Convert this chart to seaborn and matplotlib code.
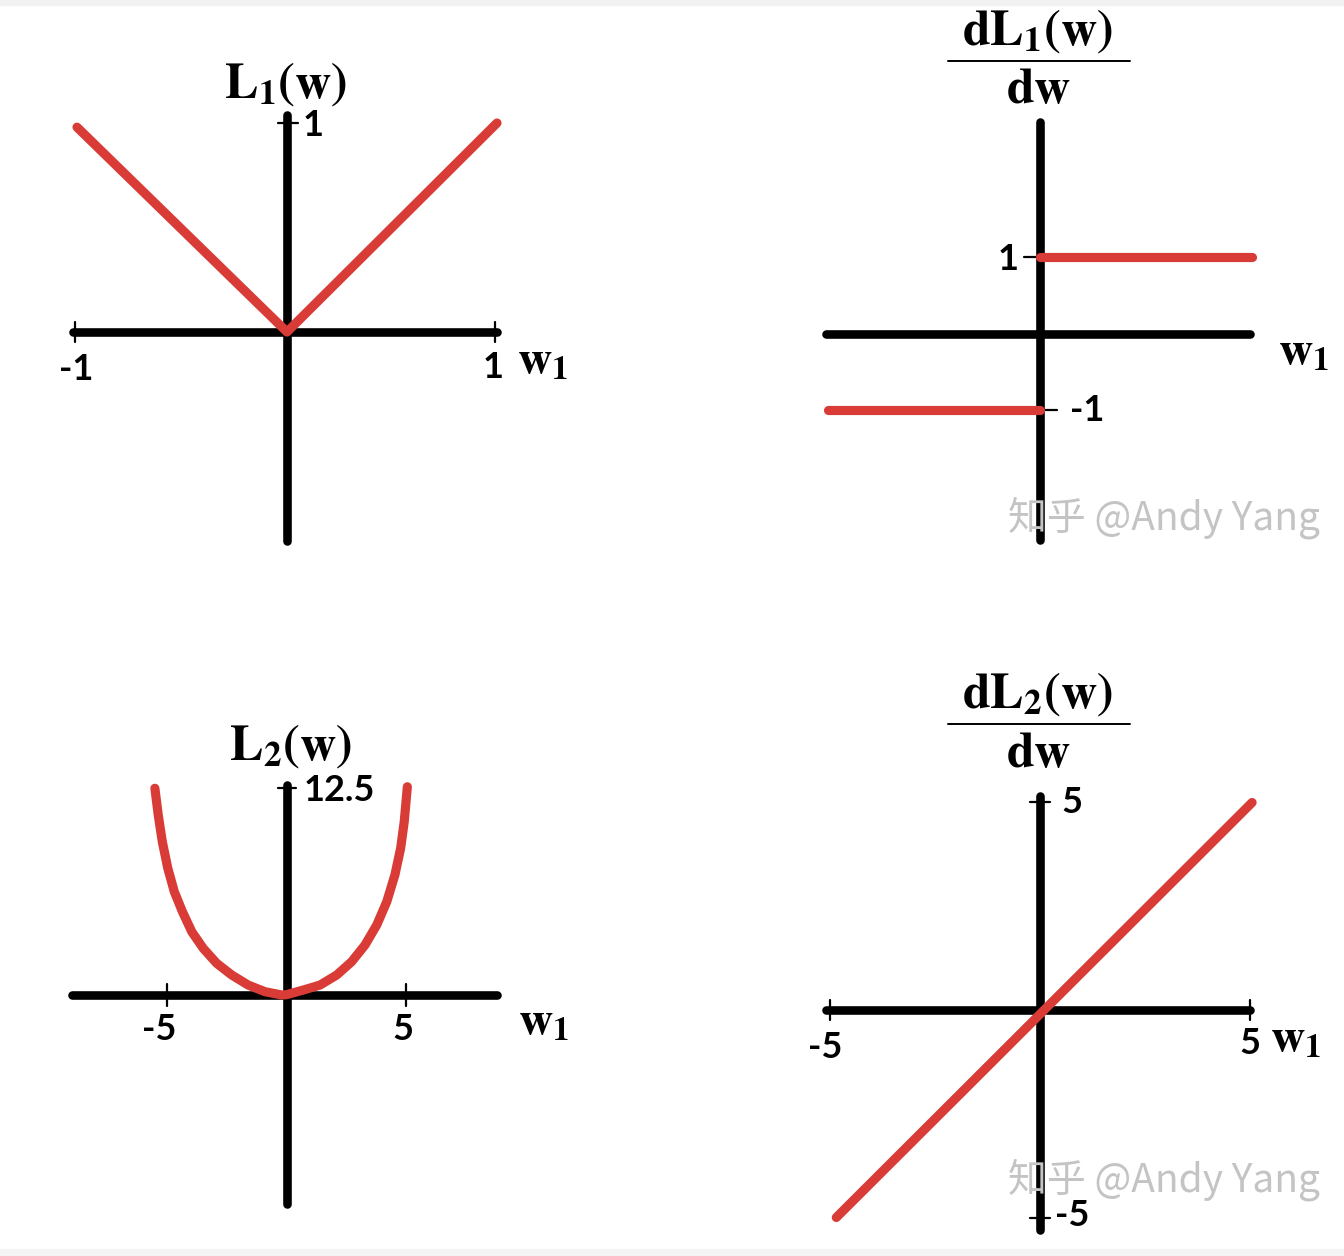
import matplotlib
matplotlib.use("Agg")
import matplotlib.pyplot as plt
import seaborn as sns
from matplotlib.lines import Line2D
from matplotlib.patches import Rectangle

W, H = 1344, 1256
RED = "#d93b36"

# L1(w): |w|
l1_x = [-1.0, 0.0, 1.0]
l1_y = [0.98, 0.0, 1.0]
l1_axis_x = [-1.02, 1.0]
l1_axis_y = [-1.0, 1.04]

# dL1/dw: sign(w)
dl1_neg_x = [-1.0, 0.0]
dl1_neg_y = [-1.0, -1.0]
dl1_pos_x = [0.0, 1.0]
dl1_pos_y = [1.0, 1.0]
dl1_axis_x = [-1.01, 0.99]
dl1_axis_y = [-2.7, 2.76]

# L2(w): w^2 / 2
l2_x = [-5.50, -5.36, -5.19, -4.96, -4.69, -4.35, -3.96, -3.48, -2.92, -2.29,
        -1.60, -0.90, -0.20, 0.0, 0.70, 1.40, 2.10, 2.72, 3.28, 3.77,
        4.19, 4.53, 4.77, 4.92, 5.05]
l2_y = [12.50, 10.88, 9.27, 7.66, 6.25, 5.04, 3.83, 2.82, 1.92, 1.21,
        0.60, 0.20, 0.0, 0.02, 0.30, 0.60, 1.21, 2.01, 3.02, 4.23,
        5.64, 7.26, 8.87, 10.48, 12.59]
l2_axis_x = [-8.95, 8.8]
l2_axis_y = [-12.65, 12.7]

# dL2/dw: w
dl2_x = [-4.85, 5.05]
dl2_y = [-5.0, 5.0]
dl2_axis_x = [-5.1, 5.0]
dl2_axis_y = [-5.3, 5.15]


def px(x, y):
    return x / W, 1 - y / H


def panel_axes(fig, origin, scale, box):
    l, t, r, b = box
    ax = fig.add_axes([l / W, 1 - b / H, (r - l) / W, (b - t) / H])
    ox, oy = origin
    sx, sy = scale
    ax.set_xlim((l - ox) / sx, (r - ox) / sx)
    ax.set_ylim((oy - b) / sy, (oy - t) / sy)
    ax.set_axis_off()
    return ax


def draw_axes(ax, xs, ys):
    ax.plot(xs, [0, 0], color="black", lw=6.2, solid_capstyle="round", clip_on=False, zorder=2)
    ax.plot([0, 0], ys, color="black", lw=6.2, solid_capstyle="round", clip_on=False, zorder=2)


def vtick(ax, x, half):
    ax.plot([x, x], [-half, half], color="black", lw=1.6, clip_on=False, zorder=2)


def htick(ax, y, x0, x1):
    ax.plot([x0, x1], [y, y], color="black", lw=1.6, clip_on=False, zorder=2)


def red(ax, x, y):
    sns.lineplot(x=x, y=y, ax=ax, color=RED, lw=6.6, sort=False, estimator=None,
                 solid_capstyle="round", solid_joinstyle="round", clip_on=False, zorder=3)


def label(ax, s, xy, off, ha="center", va="center", size=26):
    ax.annotate(s, xy=xy, xytext=off, textcoords="offset pixels", ha=ha, va=va,
                fontsize=size, fontweight="bold", color="black",
                family=["Lato", "DejaVu Sans"], annotation_clip=False)


def wlabel(ax, xy, off):
    ax.annotate(r"$\mathbf{w_1}$", xy=xy, xytext=off, textcoords="offset pixels",
                ha="left", va="center", fontsize=34, color="black", annotation_clip=False)


def frac_title(fig, num, cx, base_num, line_y, base_den):
    fig.text(*px(cx, base_num), num, ha="center", va="baseline", fontsize=36, color="black")
    fig.add_artist(Line2D([948 / W, 1130 / W], [1 - line_y / H, 1 - line_y / H],
                          color="black", lw=1.4))
    fig.text(*px(cx + 2, base_den), r"$\mathbf{dw}$", ha="center", va="baseline",
             fontsize=36, color="black")


def watermark(fig, x, y):
    fig.text(*px(x, y), "知乎 @Andy Yang", ha="left", va="center", fontsize=28,
             color="#c4c4c4", family=["Noto Sans CJK SC", "DejaVu Sans"])


def main():
    sns.set_theme(style="white")
    plt.rcParams["mathtext.fontset"] = "stix"
    plt.rcParams["font.family"] = ["DejaVu Sans"]
    plt.rcParams["text.color"] = "black"

    fig = plt.figure(figsize=(W / 100, H / 100), dpi=100)
    fig.patch.set_facecolor("white")
    fig.add_artist(Rectangle((0, 1 - 5 / H), 1, 5 / H, transform=fig.transFigure,
                             color="#f1f1f1", zorder=0))
    fig.add_artist(Rectangle((0, 0), 1, 7 / H, transform=fig.transFigure,
                             color="#f4f4f4", zorder=0))

    # top-left: L1
    ax1 = panel_axes(fig, (287, 332), (210, 209), (40, 100, 600, 560))
    draw_axes(ax1, l1_axis_x, l1_axis_y)
    vtick(ax1, l1_axis_x[0] + 0.01, 0.05)
    vtick(ax1, l1_axis_x[1] - 0.01, 0.05)
    htick(ax1, 1.0, -0.045, 0.05)
    red(ax1, l1_x, l1_y)
    label(ax1, "-1", (-1, 0), (-1, -37))
    label(ax1, "1", (1, 0), (-4, -35))
    label(ax1, "1", (0, 1), (16, -2), ha="left")
    wlabel(ax1, (l1_axis_x[1], 0), (20, -29))
    fig.text(*px(286, 98), r"$\mathbf{L_1(w)}$", ha="center", va="baseline", fontsize=36)

    # top-right: dL1/dw
    ax2 = panel_axes(fig, (1040, 333.5), (212, 76.5), (800, 100, 1340, 560))
    draw_axes(ax2, dl1_axis_x, dl1_axis_y)
    htick(ax2, 1.0, -0.075, -0.02)
    htick(ax2, -1.0, 0.02, 0.08)
    red(ax2, dl1_neg_x, dl1_neg_y)
    red(ax2, dl1_pos_x, dl1_pos_y)
    label(ax2, "1", (0, 1), (-32, -2))
    label(ax2, "-1", (0, -1), (47, 0))
    wlabel(ax2, (dl1_axis_x[1], 0), (28, -19))
    frac_title(fig, r"$\mathbf{dL_1(w)}$", 1037, 45, 61, 103)
    watermark(fig, 1008, 518)

    # bottom-left: L2
    ax3 = panel_axes(fig, (286.5, 995), (23.93, 16.54), (40, 770, 600, 1230))
    draw_axes(ax3, l2_axis_x, l2_axis_y)
    vtick(ax3, -5, 0.65)
    vtick(ax3, 5, 0.65)
    htick(ax3, 12.5, -0.35, 0.4)
    red(ax3, l2_x, l2_y)
    label(ax3, "12.5", (0, 12.5), (17, -2), ha="left")
    label(ax3, "-5", (-5, 0), (-8, -35))
    label(ax3, "5", (5, 0), (-3, -35))
    wlabel(ax3, (l2_axis_x[1], 0), (21, -27))
    fig.text(*px(291, 760), r"$\mathbf{L_2(w)}$", ha="center", va="baseline", fontsize=36)

    # bottom-right: dL2/dw
    ax4 = panel_axes(fig, (1040, 1010), (42, 41.5), (800, 780, 1340, 1250))
    draw_axes(ax4, dl2_axis_x, dl2_axis_y)
    vtick(ax4, -5, 0.25)
    vtick(ax4, 5, 0.25)
    htick(ax4, 5, -0.24, 0.24)
    htick(ax4, -5, -0.24, 0.24)
    red(ax4, dl2_x, dl2_y)
    label(ax4, "5", (0, 5), (32, 0))
    label(ax4, "-5", (0, -5), (32, 2))
    label(ax4, "-5", (-5, 0), (-5, -37))
    label(ax4, "5", (5, 0), (0, -33))
    wlabel(ax4, (5, 0), (20, -29))
    frac_title(fig, r"$\mathbf{dL_2(w)}$", 1037, 708, 724, 767)
    watermark(fig, 1008, 1180)

    fig.savefig("out.png", dpi=100)
    plt.close(fig)


if __name__ == "__main__":
    main()
